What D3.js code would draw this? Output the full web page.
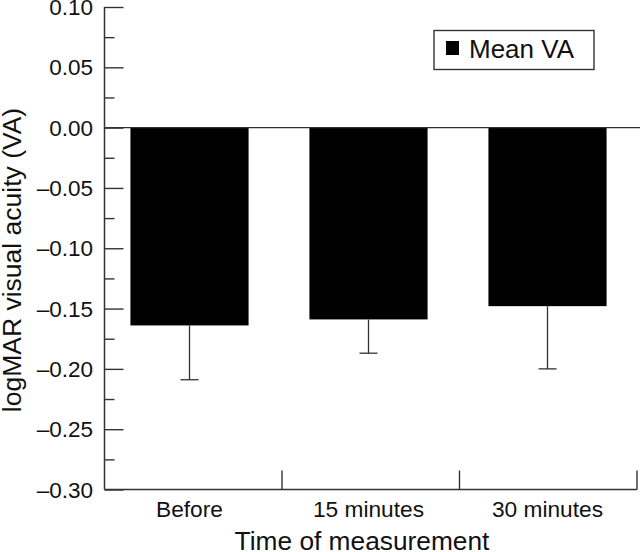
<!DOCTYPE html>
<html>
<head>
<meta charset="utf-8">
<script src="https://cdn.jsdelivr.net/npm/d3@7"></script>
<style>
  html, body { margin: 0; padding: 0; background: #fff; }
  svg { display: block; font-family: "Liberation Sans", Arial, Helvetica, sans-serif; }
</style>
</head>
<body>
<svg id="chart" width="640" height="552"></svg>
<script>
const categories = ["Before", "15 minutes", "30 minutes"];
const meanVA = [-0.164, -0.159, -0.148];
const errorSize = [0.045, 0.028, 0.052];
const yTicks = [0.10, 0.05, 0.00, -0.05, -0.10, -0.15, -0.20, -0.25, -0.30];
const yMinorTicks = [0.075, 0.025, -0.025, -0.075, -0.125, -0.175, -0.225, -0.275];
const legendLabel = "Mean VA";
const xTitle = "Time of measurement";
const yTitle = "logMAR visual acuity (VA)";

(function () {
const svg = d3.select("#chart");
const mLeft = 104.5, mRight = 637, mTop = 7, mBottom = 489.5;
const axisColor = "#333";

const y = d3.scaleLinear().domain([-0.30, 0.10]).range([mBottom, mTop]);
const xAxisScale = d3.scaleBand().domain(categories).range([mLeft, mRight]).padding(0);
const xBars = d3.scaleBand().domain(categories).range([100, 637]).paddingInner(0.34).paddingOuter(0.17);

const fmt = v => {
  const s = Math.abs(v).toFixed(2);
  return (v < -1e-9 ? "\u2013" : "") + s;
};

// Bars
svg.append("g").selectAll("rect").data(categories).join("rect")
  .attr("x", d => xBars(d))
  .attr("width", xBars.bandwidth())
  .attr("y", y(0))
  .attr("height", (d, i) => y(meanVA[i]) - y(0))
  .attr("fill", "#000");

// Error bars
const eb = svg.append("g").attr("stroke", axisColor).attr("stroke-width", 1.3);
categories.forEach((c, i) => {
  const cx = xBars(c) + xBars.bandwidth() / 2;
  const y0 = y(meanVA[i]);
  const y1 = y(meanVA[i] - errorSize[i]);
  eb.append("line").attr("x1", cx).attr("x2", cx).attr("y1", y0).attr("y2", y1);
  eb.append("line").attr("x1", cx - 9).attr("x2", cx + 9).attr("y1", y1).attr("y2", y1);
});

// Zero line
svg.append("line")
  .attr("x1", mLeft).attr("x2", 640)
  .attr("y1", y(0)).attr("y2", y(0))
  .attr("stroke", axisColor).attr("stroke-width", 1.4);

// Y axis (ticks inward)
const yAxis = d3.axisRight(y).tickValues(yTicks).tickSize(19).tickFormat("");
const gy = svg.append("g").attr("transform", `translate(${mLeft},0)`).call(yAxis);
gy.select(".domain").remove();
gy.selectAll("line").attr("stroke", axisColor).attr("stroke-width", 1.4);
const yMinor = d3.axisRight(y).tickValues(yMinorTicks).tickSize(10).tickFormat("");
const gym = svg.append("g").attr("transform", `translate(${mLeft},0)`).call(yMinor);
gym.select(".domain").remove();
gym.selectAll("line").attr("stroke", axisColor).attr("stroke-width", 1.4);
svg.append("line").attr("x1", mLeft).attr("x2", mLeft).attr("y1", mTop).attr("y2", mBottom)
  .attr("stroke", axisColor).attr("stroke-width", 1.5);

// Y tick labels
svg.append("g").selectAll("text").data(yTicks).join("text")
  .attr("x", 93).attr("y", d => y(d)).attr("dy", "0.36em")
  .attr("text-anchor", "end").attr("font-size", 22.5).attr("fill", "#111")
  .text(fmt);

// X axis
svg.append("line").attr("x1", mLeft).attr("x2", mRight).attr("y1", mBottom).attr("y2", mBottom)
  .attr("stroke", axisColor).attr("stroke-width", 1.5);
const sepTicks = categories.map(c => xAxisScale(c) + xAxisScale.bandwidth());
svg.append("g").selectAll("line").data(sepTicks).join("line")
  .attr("x1", d => d).attr("x2", d => d)
  .attr("y1", mBottom).attr("y2", mBottom - 19)
  .attr("stroke", axisColor).attr("stroke-width", 1.4);

// X category labels
svg.append("g").selectAll("text").data(categories).join("text")
  .attr("x", d => xBars(d) + xBars.bandwidth() / 2)
  .attr("y", 516.5)
  .attr("text-anchor", "middle").attr("font-size", 22.7).attr("fill", "#111")
  .text(d => d);

// Axis titles
svg.append("text").attr("x", 362).attr("y", 550).attr("text-anchor", "middle")
  .attr("font-size", 26.3).attr("fill", "#111").text(xTitle);
svg.append("text").attr("transform", "translate(21,260) rotate(-90)")
  .attr("text-anchor", "middle").attr("font-size", 26.5).attr("fill", "#111").text(yTitle);

// Legend
const lg = svg.append("g");
lg.append("rect").attr("x", 434).attr("y", 30.5).attr("width", 160).attr("height", 39)
  .attr("fill", "#fff").attr("stroke", axisColor).attr("stroke-width", 1.4);
lg.append("rect").attr("x", 446).attr("y", 41).attr("width", 13).attr("height", 14).attr("fill", "#000");
lg.append("text").attr("x", 469).attr("y", 58).attr("font-size", 26).attr("fill", "#111").text(legendLabel);
})();
</script>
</body>
</html>
